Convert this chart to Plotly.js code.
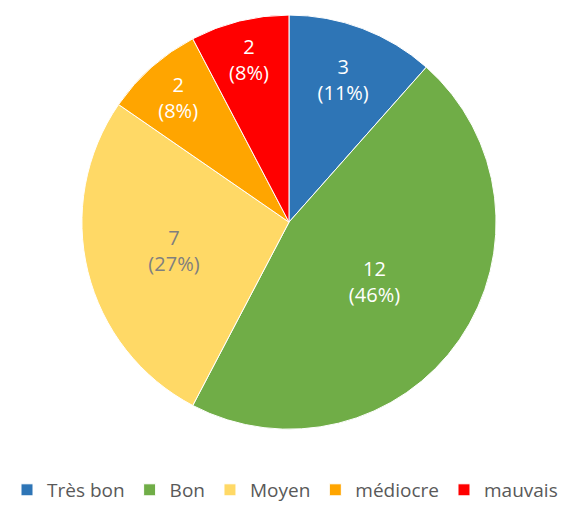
<!DOCTYPE html>
<html><head><meta charset="utf-8">
<script src="https://cdn.plot.ly/plotly-3.0.1.min.js"></script>
<style>html,body{margin:0;padding:0;background:#fff}#c{width:570px;height:509px}</style>
</head><body><div id="c"></div>
<script>
const categories = ["Très bon", "Bon", "Moyen", "médiocre", "mauvais"];
const values = [3, 12, 7, 2, 2];
const pctLabels = ["11%", "46%", "27%", "8%", "8%"];
const colors = ["#2E75B6", "#70AD47", "#FFD966", "#FFA500", "#FF0000"];
const textColors = ["#ffffff", "#ffffff", "#7f7f7f", "#ffffff", "#ffffff"];

const text = values.map((v, i) => v + "<br>(" + pctLabels[i] + ")");

Plotly.newPlot("c", [{
  type: "pie",
  labels: categories,
  values: values,
  text: text,
  textinfo: "text",
  textposition: "inside",
  insidetextorientation: "horizontal",
  sort: false,
  direction: "clockwise",
  rotation: 0,
  marker: {colors: colors, line: {color: "#ffffff", width: 1}},
  textfont: {family: "Open Sans, Liberation Sans, sans-serif", size: 20, color: textColors},
  hoverinfo: "none",
  domain: {x: [0.1386, 0.8754], y: [0.145, 0.970]}
}], {
  width: 570, height: 509,
  margin: {l: 0, r: 0, t: 0, b: 0},
  paper_bgcolor: "#ffffff",
  showlegend: true,
  legend: {orientation: "h", x: 0.5, xanchor: "center", y: 0.024, yanchor: "middle",
           font: {family: "Open Sans, Liberation Sans, sans-serif", size: 19, color: "#595959"},
           itemwidth: 30, traceorder: "normal"}
}, {displayModeBar: false, staticPlot: true});
</script></body></html>
